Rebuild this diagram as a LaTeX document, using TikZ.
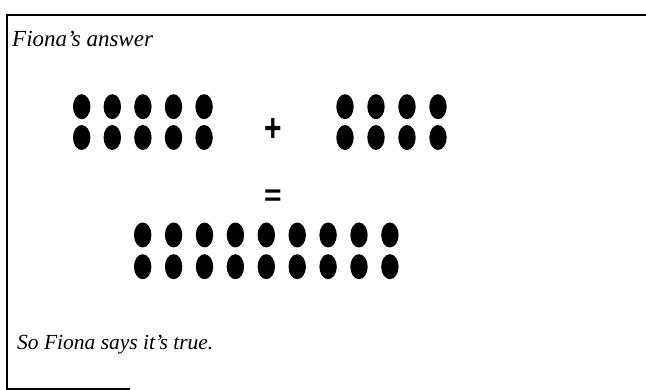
\documentclass[tikz,border=0pt]{standalone}
\usepackage{fontspec}
\setmainfont{Liberation Serif}
\setsansfont{Liberation Sans}
\begin{document}
\begin{tikzpicture}[x=1pt, y=-1pt, font=\fontsize{21.5}{25}\selectfont\itshape]
    \tikzset{
      bead/.style={fill=black},
      caption/.style={anchor=base west, inner sep=0pt},
      sign/.style={font=\fontsize{30}{30}\selectfont\sffamily\bfseries, inner sep=0pt},
    }
    \useasboundingbox (0,0) rectangle (646,390);

    % frame, open on the right
    \draw[line width=1.5pt] (646,15) -- (7,15) -- (7,389) -- (130,389);

    \node[caption, font=\fontsize{23}{27}\selectfont\itshape] (head) at (12,47) {Fiona's answer};
    \node[caption] (tail) at (17,350) {So Fiona says it's true.};

    % five plus four
    \foreach \i in {0,...,4}
      \foreach \y in {106.7,137.5}
        \fill[bead] (81.7+30.6*\i,\y) ellipse (8.7pt and 12.5pt);
    \foreach \i in {0,...,3}
      \foreach \y in {106.7,137.5}
        \fill[bead] (345+31*\i,\y) ellipse (8.7pt and 12.5pt);
    \node[sign, yscale=1.3] (plus) at (273,130) {+};

    % equals nine
    \node[sign] (eq) at (273,198) {=};
    \foreach \i in {0,...,8}
      \foreach \y in {235,266.7}
        \fill[bead] (142.7+30.9*\i,\y) ellipse (8.7pt and 12.5pt);
  \end{tikzpicture}
\end{document}
